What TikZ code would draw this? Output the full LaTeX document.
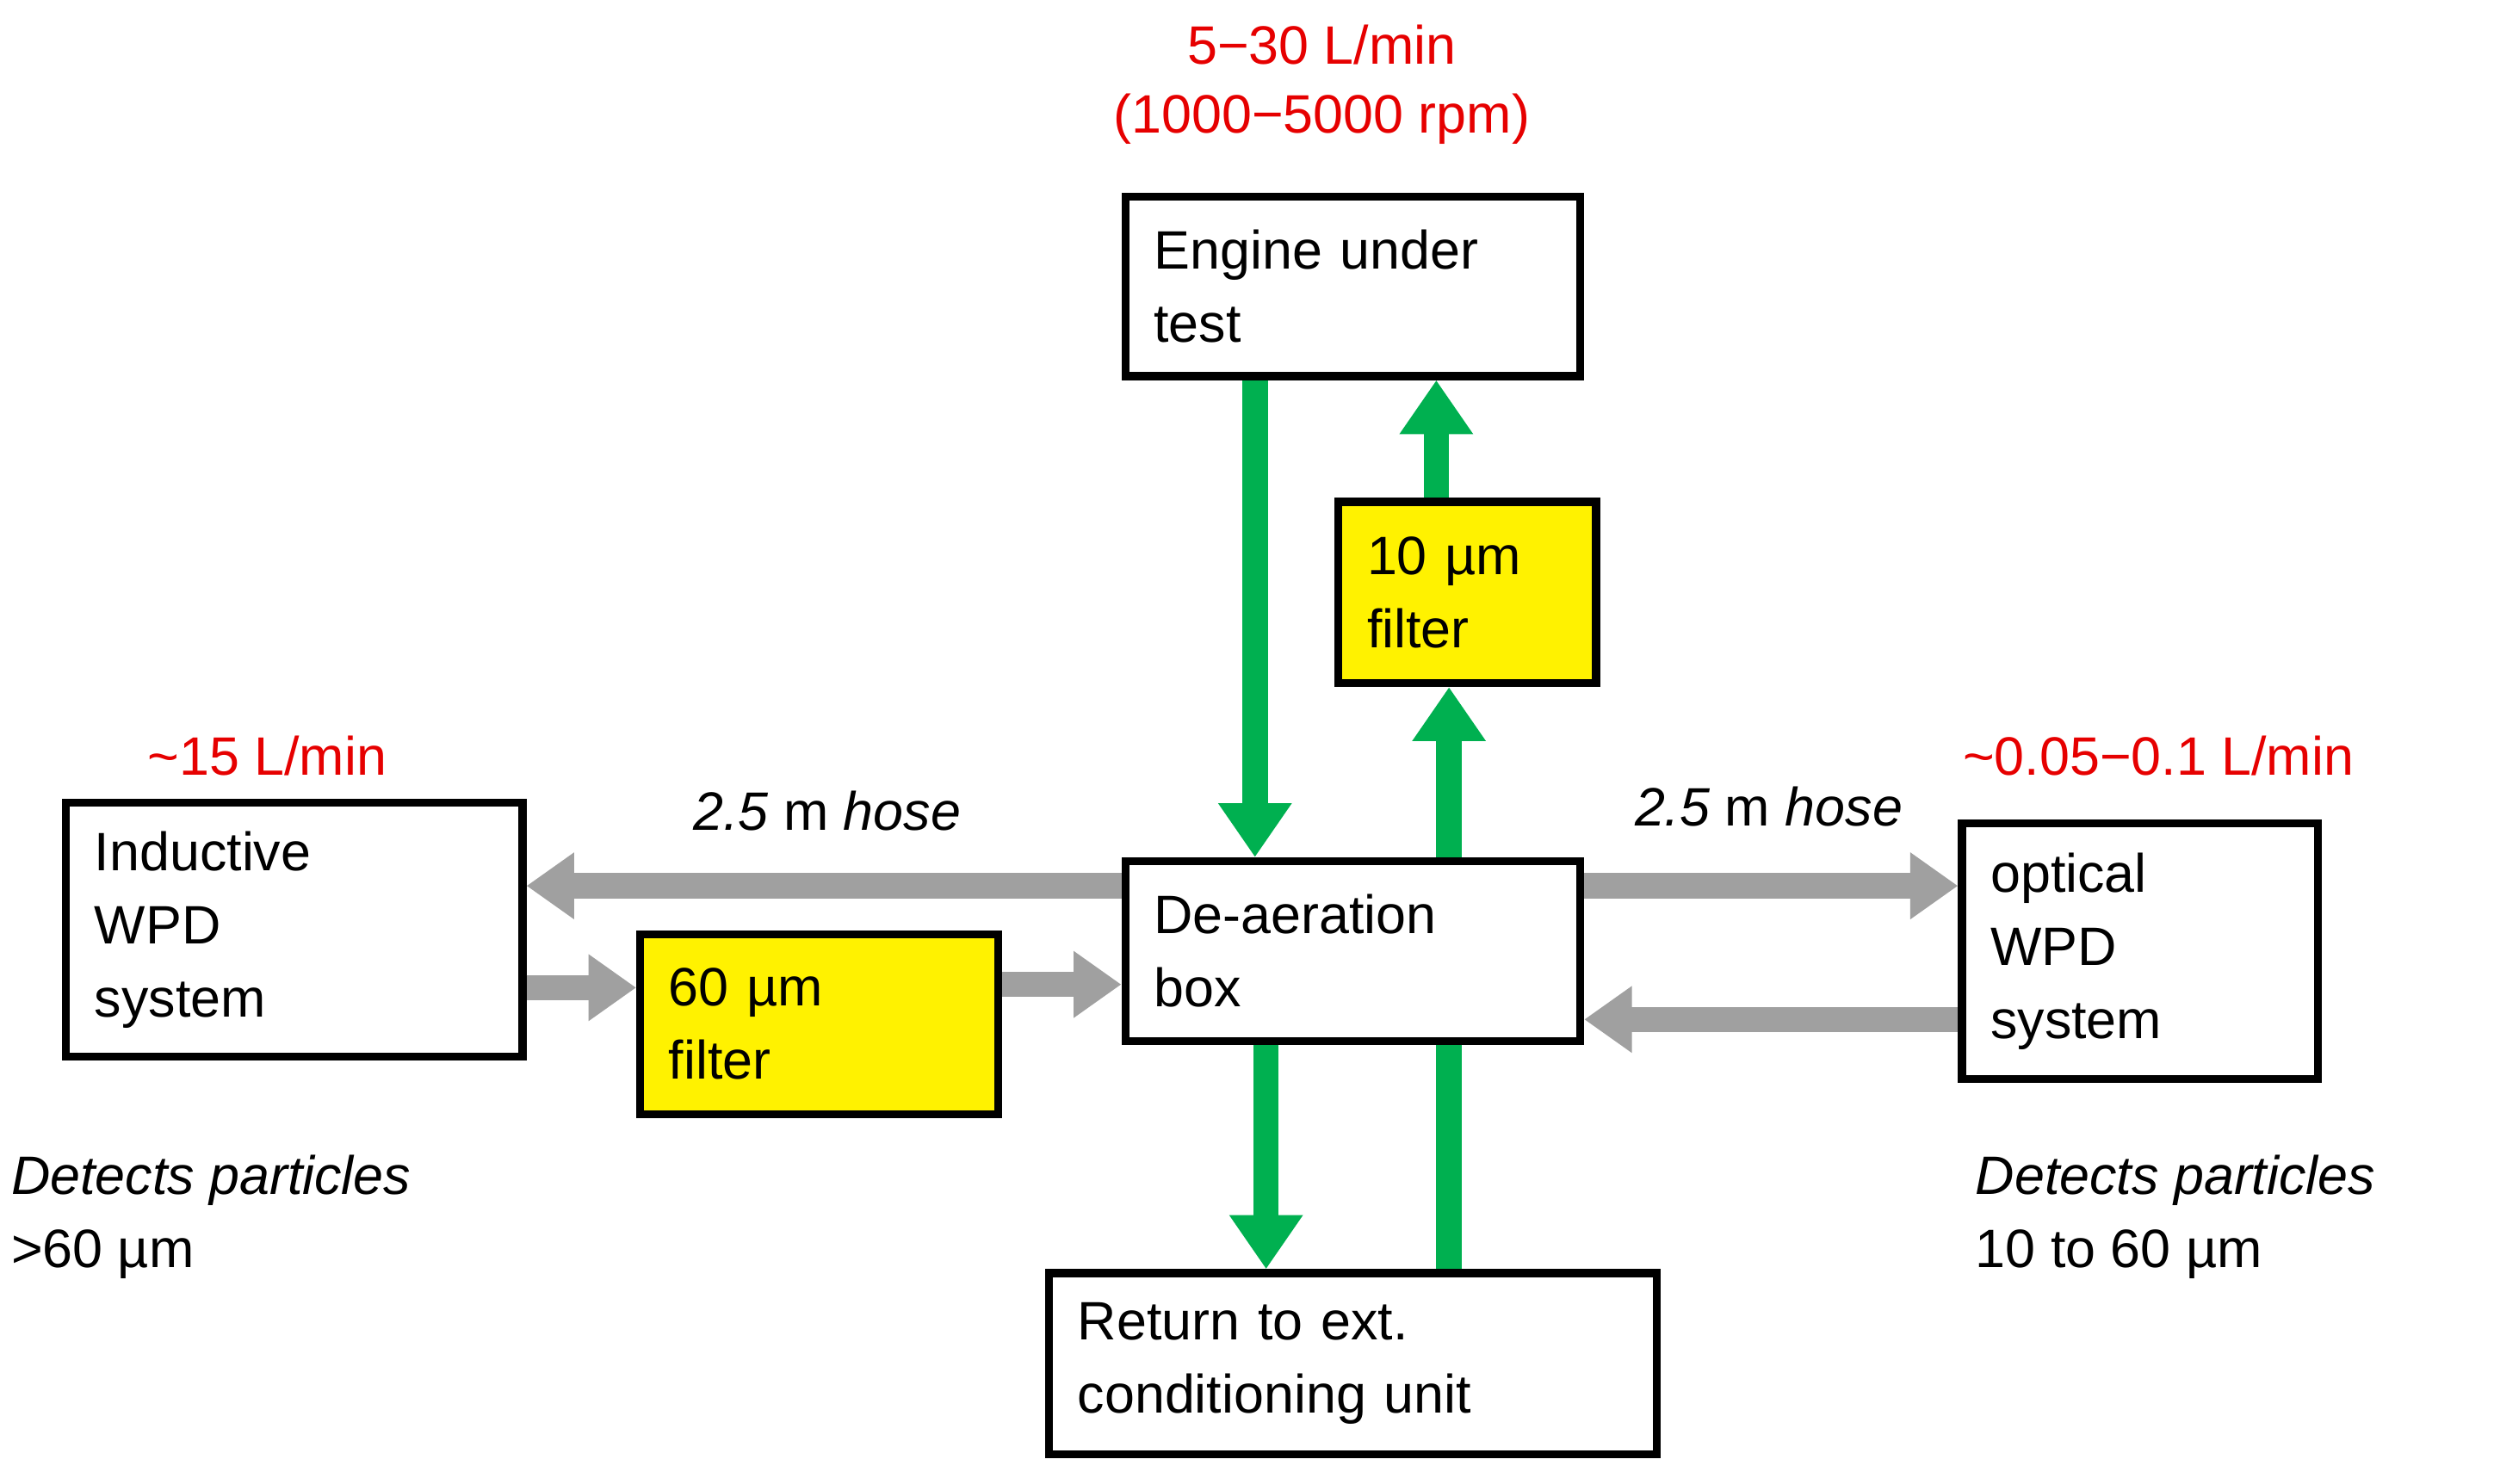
\documentclass[tikz,border=0pt]{standalone}
\usepackage{fontspec}
\setmainfont{Liberation Sans}
\usetikzlibrary{arrows.meta}
\begin{document}
\begin{tikzpicture}[x=0.5pt,y=-0.5pt,
  box/.style={draw=black,line width=2.5pt,inner xsep=9pt,align=left,font=\fontsize{17}{23}\selectfont,anchor=north west},
  ylw/.style={box,fill=yellow},
  green/.style={draw={rgb,255:red,0;green,176;blue,80},line width=8pt,-{Triangle[length=17pt,width=22pt]}},
  gray/.style={draw={rgb,255:red,160;green,160;blue,160},line width=8pt,-{Triangle[length=15pt,width=20pt]}},
  red/.style={text={rgb,255:red,230;green,0;blue,0},font=\fontsize{17}{23}\selectfont},
  lbl/.style={font=\fontsize{17}{23}\selectfont,anchor=west,align=left}]
\useasboundingbox (0,0) rectangle (1568,933);
\node[box,text width=125pt,minimum height=56.5pt] (eng) at (705,121) {Engine under\\test};
\node[ylw,text width=63pt,minimum height=57pt] (f10) at (839,313) {10 µm\\filter};
\node[box,text width=125pt,minimum height=56.5pt] (dea) at (705,539) {De-aeration\\box};
\node[box,text width=173pt,minimum height=57pt] (ret) at (657,798) {Return to ext.\\conditioning unit};
\node[box,text width=125.5pt,minimum height=80pt] (ind) at (39,502) {Inductive\\WPD\\system};
\node[ylw,text width=94.5pt,minimum height=56.5pt] (f60) at (400,585) {60 µm\\filter};
\node[box,text width=94pt,minimum height=80.5pt] (opt) at (1231,515) {optical\\WPD\\system};
% green
\draw[green] (789,0 |- eng.south) -- (789,0 |- dea.north);
\draw[green] (911,0 |- dea.north) -- (911,0 |- f10.south);
\draw[green] (903,0 |- f10.north) -- (903,0 |- eng.south);
\draw[green] (796,0 |- dea.south) -- (796,0 |- ret.north);
\draw[green,-] (911,0 |- ret.north) -- (911,0 |- dea.south);
% gray
\draw[gray] (dea.west |- 0,557) -- (ind.east |- 0,557);
\draw[gray] (ind.east |- 0,621) -- (f60.west |- 0,621);
\draw[gray] (f60.east |- 0,619) -- (dea.west |- 0,619);
\draw[gray] (dea.east |- 0,557) -- (opt.west |- 0,557);
\draw[gray] (opt.west |- 0,641) -- (dea.east |- 0,641);
% labels
\node[red] (t1) at (831,28) {5−30 L/min};
\node[red] (t2) at (831,75) {(1000−5000 rpm)};
\node[red] (t3) at (168,475) {\textasciitilde 15 L/min};
\node[red] (t4) at (1357,475) {\textasciitilde 0.05−0.1 L/min};
\node[lbl,anchor=center] (h1) at (520,510) {\textit{2.5} m \textit{hose}};
\node[lbl,anchor=center] (h2) at (1112,507) {\textit{2.5} m \textit{hose}};
\node[lbl] (d1) at (0,765) {\textit{Detects particles}\\>60 µm};
\node[lbl] (d2) at (1235,765) {\textit{Detects particles}\\10 to 60 µm};
\end{tikzpicture}
\end{document}
